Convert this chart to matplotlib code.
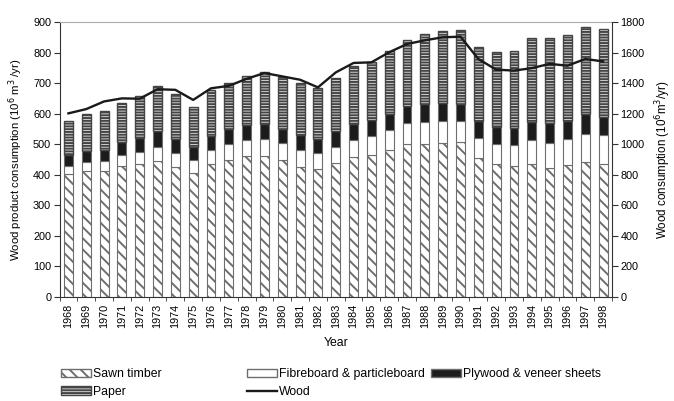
import matplotlib
matplotlib.use("Agg")
import matplotlib.pyplot as plt
import numpy as np
from matplotlib.patches import Patch
from matplotlib.lines import Line2D

plt.rcParams['font.family'] = ['Liberation Sans', 'DejaVu Sans']
plt.rcParams['hatch.linewidth'] = 1.4

years = [str(y) for y in range(1968, 1999)]
# cumulative tops (left axis units)
sawn_top = [402, 411, 412, 429, 434, 444, 425, 405, 434, 448, 460, 460, 448, 426, 420, 437,
            457, 466, 482, 502, 502, 504, 507, 454, 435, 430, 435, 421, 432, 441, 435]
fib_top = [429, 442, 444, 464, 475, 492, 471, 448, 482, 502, 515, 516, 503, 481, 470, 492,
           515, 526, 546, 568, 572, 576, 576, 520, 500, 496, 513, 504, 516, 532, 529]
ply_top = [464, 479, 482, 507, 522, 542, 518, 491, 528, 551, 563, 566, 551, 529, 518, 543,
           566, 580, 599, 626, 632, 636, 632, 575, 558, 554, 573, 570, 575, 599, 588]
total = [577, 600, 610, 634, 659, 690, 664, 621, 676, 702, 724, 735, 720, 700, 683, 718,
         755, 768, 804, 842, 861, 872, 874, 817, 802, 804, 848, 848, 856, 884, 878]
wood = [1202, 1230, 1280, 1300, 1298, 1360, 1356, 1290, 1366, 1382, 1428, 1466, 1444, 1422,
        1372, 1470, 1532, 1536, 1602, 1656, 1680, 1700, 1704, 1558, 1488, 1482, 1498, 1526,
        1514, 1558, 1542]

sawn = np.array(sawn_top, float)
fibre = np.array(fib_top, float) - np.array(sawn_top, float)
plywood = np.array(ply_top, float) - np.array(fib_top, float)
paper = np.array(total, float) - np.array(ply_top, float)

fig = plt.figure(figsize=(6.74, 4.01), dpi=100)
ax = fig.add_axes([59.5/674, 1-297/401, (612-59.5)/674, 275/401])
x = np.arange(len(years))
w = 0.5
ec = '#6e6e6e'
pap_ec = '#444444'
pap_fc = '#e4e4e4'
ax.bar(x, sawn, w, color='white', edgecolor=ec, hatch='\\\\\\', linewidth=0.8)
ax.bar(x, fibre, w, bottom=sawn, color='white', edgecolor=ec, linewidth=0.8)
ax.bar(x, plywood, w, bottom=sawn + fibre, color='#1c1c1c', edgecolor=ec, linewidth=0.8)
ax.bar(x, paper, w, bottom=sawn + fibre + plywood, color=pap_fc, edgecolor=pap_ec,
       hatch='------', linewidth=1.0)

ax.set_xlim(-0.5, len(years) - 0.5)
ax.set_ylim(0, 900)
ax.set_yticks(np.arange(0, 901, 100))
ax.set_xticks(x)
ax.set_xticklabels(years, rotation=90, fontsize=7.8)
ax.tick_params(axis='x', length=0, pad=5)
ax.set_xticks(np.arange(-0.5, len(years), 1), minor=True)
ax.tick_params(axis='x', which='minor', length=3, direction='out', color='#333')
ax.tick_params(axis='y', labelsize=7.8, length=4, direction='out', color='#333', pad=2)
ax.set_xlabel('Year', fontsize=8.8, labelpad=6)
ax.set_ylabel('Wood product consumption (10$^6$ m$^3$ /yr)', fontsize=8.2, labelpad=6)
ax.spines['top'].set_color('#aaaaaa')
ax.spines['left'].set_color('#333')
ax.spines['bottom'].set_color('#333')
ax.spines['right'].set_visible(False)

ax2 = ax.twinx()
ax2.set_ylim(0, 1800)
ax2.set_yticks(np.arange(0, 1801, 200))
ax2.plot(x, wood, color='#1a1a1a', linewidth=1.7)
ax2.tick_params(axis='y', labelsize=7.8, length=4, direction='out', color='#333', pad=2)
ax2.set_ylabel('Wood consumption (10$^6$m$^3$/yr)', fontsize=8.4, labelpad=6)
for s in ['top', 'left', 'bottom']:
    ax2.spines[s].set_visible(False)
ax2.spines['right'].set_color('#333')

h_sawn = Patch(facecolor='white', edgecolor=ec, hatch='\\\\\\')
h_fib = Patch(facecolor='white', edgecolor=ec)
h_ply = Patch(facecolor='#1c1c1c', edgecolor=ec)
h_pap = Patch(facecolor=pap_fc, edgecolor=pap_ec, hatch='------')
h_wood = Line2D([0], [0], color='#1a1a1a', linewidth=1.7)

common = dict(frameon=False, fontsize=8.8, handlelength=2.45, handleheight=0.65,
              handletextpad=0.2, labelspacing=0.48, borderpad=0, borderaxespad=0,
              loc='upper left')
top_y = 1 - 368/401
fig.legend([h_sawn, h_pap], ['Sawn timber', 'Paper'], bbox_to_anchor=(61/674, top_y), **common)
fig.legend([h_fib, h_wood], ['Fibreboard & particleboard', 'Wood'], bbox_to_anchor=(247/674, top_y), **common)
fig.legend([h_ply], ['Plywood & veneer sheets'], bbox_to_anchor=(431/674, top_y), **common)

fig.savefig('out.png', dpi=100)
